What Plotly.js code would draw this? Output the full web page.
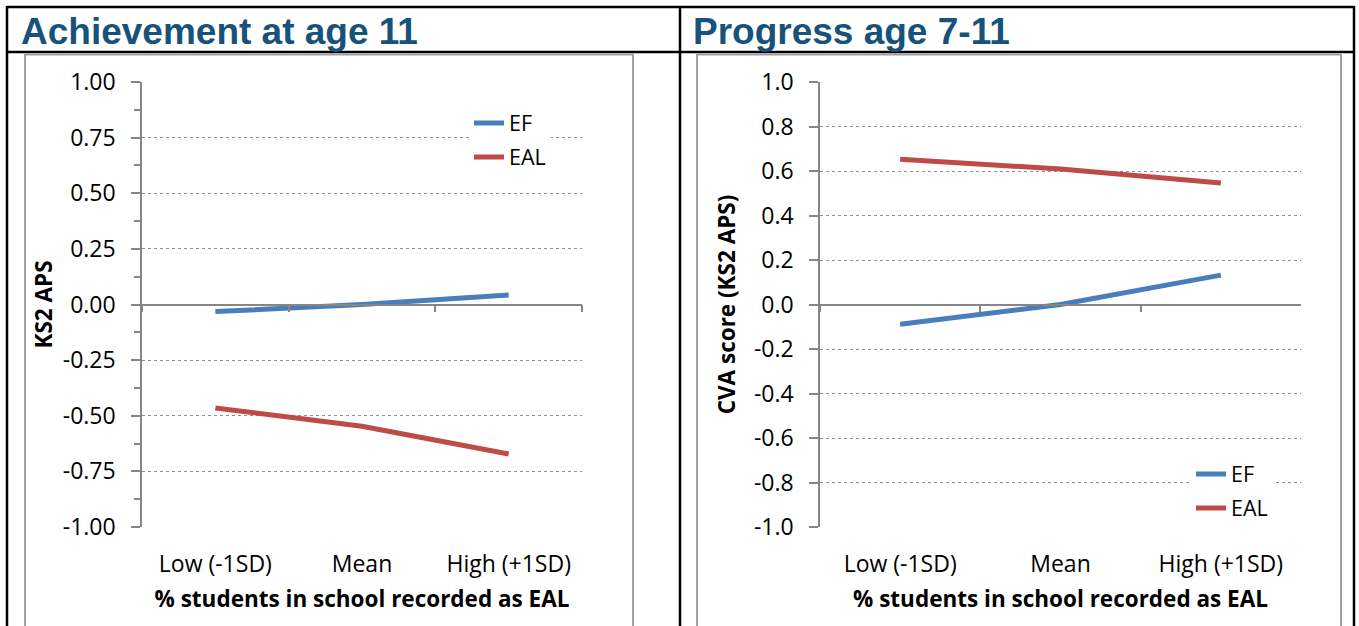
<!DOCTYPE html>
<html><head><meta charset="utf-8">
<script src="https://cdn.plot.ly/plotly-3.0.1.min.js"></script>
<style>html,body{margin:0;padding:0;background:#fff;overflow:hidden}#chart{width:1359px;height:626px}</style>
</head><body><div id="chart"></div>
<script>
// ---- data ----
const categories = ['Low (-1SD)', 'Mean', 'High (+1SD)'];
const seriesNames = ['EF', 'EAL'];
const achievementEF = [-0.032, 0.0, 0.043];
const achievementEAL = [-0.465, -0.547, -0.672];
const progressEF = [-0.089, 0.0, 0.132];
const progressEAL = [0.653, 0.609, 0.546];
const achievementTicks = [-1, -0.75, -0.5, -0.25, 0, 0.25, 0.5, 0.75, 1];
const progressTicks = [-1, -0.8, -0.6, -0.4, -0.2, 0, 0.2, 0.4, 0.6, 0.8, 1];
const achievementTickText = achievementTicks.map(v => v.toFixed(2));
const progressTickText = progressTicks.map(v => v.toFixed(1));
const panelTitles = ['Achievement at age 11', 'Progress age 7-11'];
const xTitle = '% students in school recorded as EAL';
const yTitles = ['KS2 APS', 'CVA score (KS2 APS)'];

// ---- layout helpers ----
const W = 1359, H = 626;
const px = x => x / W;
const py = y => 1 - y / H;
const colEF = '#4A7EBB', colEAL = '#BE4B48';
const axisGray = '#868686';
const tickFont = {family: 'Open Sans, sans-serif', size: 23, color: '#000'};
const legendFont = {family: 'Open Sans, sans-serif', size: 21.5, color: '#000'};
const axTitleFont = {family: 'Open Sans, sans-serif', size: 22.5, color: '#000', weight: 'bold'};
const yDomain = [py(527), py(82)];
const zeroPos = (yDomain[0] + yDomain[1]) / 2;

function line(name, x, y, xa, ya, color, leg, grp) {
  return {x: x, y: y, name: name, xaxis: xa, yaxis: ya, mode: 'lines', type: 'scatter',
    line: {color: color, width: 5}, legend: leg, legendgroup: grp, hoverinfo: 'x+y+name'};
}
function ghost(x, y, xa, ya) {
  return {x: x, y: y, xaxis: xa, yaxis: ya, mode: 'lines', type: 'scatter', opacity: 0,
    line: {width: 0}, showlegend: false, hoverinfo: 'skip'};
}

const traces = [
  line(seriesNames[0], categories, achievementEF, 'x', 'y', colEF, 'legend', 'a'),
  line(seriesNames[1], categories, achievementEAL, 'x', 'y', colEAL, 'legend', 'b'),
  line(seriesNames[0], categories, progressEF, 'x2', 'y2', colEF, 'legend2', 'c'),
  line(seriesNames[1], categories, progressEAL, 'x2', 'y2', colEAL, 'legend2', 'd'),
  ghost(categories, achievementEF, 'x3', 'y'),
  ghost(categories, progressEF, 'x4', 'y2')
];

function catAxis(domain, anchor) {
  return {domain: domain, anchor: anchor, type: 'category', range: [-0.5, 2.5],
    showline: false, showgrid: false, zeroline: false,
    ticks: 'outside', ticklen: 16, tickcolor: 'rgba(0,0,0,0)',
    tickfont: tickFont, fixedrange: true,
    title: {text: xTitle, font: axTitleFont, standoff: 13}};
}
function zeroAxis(over) {
  return {overlaying: over, anchor: 'free', position: zeroPos, type: 'category', range: [-0.5, 2.5],
    tickson: 'boundaries', ticks: 'outside', ticklen: 7, tickcolor: axisGray, tickwidth: 1.5,
    showline: true, linecolor: axisGray, linewidth: 1.5, showticklabels: false,
    showgrid: false, zeroline: false, fixedrange: true};
}
function valAxis(anchor, vals, txt, title, standoff, minor) {
  const a = {domain: yDomain, anchor: anchor, range: [-1, 1], tickmode: 'array',
    tickvals: vals, ticktext: txt, tickfont: tickFont, ticklabelstandoff: 11,
    showline: true, linecolor: axisGray, linewidth: 1.5,
    ticks: 'outside', ticklen: 9, tickcolor: axisGray, tickwidth: 1.5,
    showgrid: true, gridcolor: '#8f8f8f', griddash: 'dot', gridwidth: 1,
    zeroline: false, fixedrange: true,
    title: {text: title, font: axTitleFont, standoff: standoff}};
  if (minor) a.minor = {tickmode: 'linear', tick0: -0.875, dtick: 0.25, ticks: 'outside',
    ticklen: 6, tickcolor: axisGray, tickwidth: 1.5, showgrid: false};
  return a;
}

function seg(x0, y0, x1, y1, color, width) {
  return {type: 'line', xref: 'paper', yref: 'paper', x0: px(x0), y0: py(y0), x1: px(x1), y1: py(y1),
    line: {color: color, width: width}, layer: 'below'};
}
const shapes = [
  seg(7, 7, 1354, 7, '#000', 2.5),
  seg(7, 52, 1354, 52, '#000', 2.5),
  seg(7, 6, 7, 640, '#000', 2.5),
  seg(680, 6, 680, 640, '#000', 2.5),
  seg(1354, 6, 1354, 640, '#000', 2.5),
  seg(25, 54.5, 633, 54.5, '#a0a0a0', 2),
  seg(25, 54, 25, 640, '#a0a0a0', 2),
  seg(633, 54, 633, 640, '#a0a0a0', 2),
  seg(697, 54.5, 1341, 54.5, '#a0a0a0', 2),
  seg(697, 54, 697, 640, '#a0a0a0', 2),
  seg(1341, 54, 1341, 640, '#a0a0a0', 2)
];

const headFont = {family: 'Liberation Sans, Arial, sans-serif', size: 37, color: '#17527A', weight: 'bold'};
const annotations = [
  {text: panelTitles[0], xref: 'paper', yref: 'paper', x: px(19), y: py(31), xanchor: 'left', yanchor: 'middle', showarrow: false, font: headFont},
  {text: panelTitles[1], xref: 'paper', yref: 'paper', x: px(691), y: py(31), xanchor: 'left', yanchor: 'middle', showarrow: false, font: headFont}
];

const legendBase = {bgcolor: '#fff', borderwidth: 0, font: legendFont, tracegroupgap: 3,
  xanchor: 'left', yanchor: 'middle', orientation: 'v', itemclick: false, itemdoubleclick: false};

const layout = {
  width: W, height: H, margin: {l: 0, r: 0, t: 0, b: 0},
  paper_bgcolor: '#fff', plot_bgcolor: 'rgba(0,0,0,0)',
  showlegend: true,
  xaxis: catAxis([px(142), px(582)], 'y'),
  yaxis: valAxis('x', achievementTicks, achievementTickText, yTitles[0], 4, true),
  xaxis2: catAxis([px(820), px(1301)], 'y2'),
  yaxis2: valAxis('x2', progressTicks, progressTickText, yTitles[1], 12, false),
  xaxis3: zeroAxis('x'),
  xaxis4: zeroAxis('x2'),
  legend: Object.assign({}, legendBase, {x: px(469), y: py(140)}),
  legend2: Object.assign({}, legendBase, {x: px(1191), y: py(491)}),
  shapes: shapes,
  annotations: annotations
};

Plotly.newPlot('chart', traces, layout, {displayModeBar: false, staticPlot: false});
</script></body></html>
